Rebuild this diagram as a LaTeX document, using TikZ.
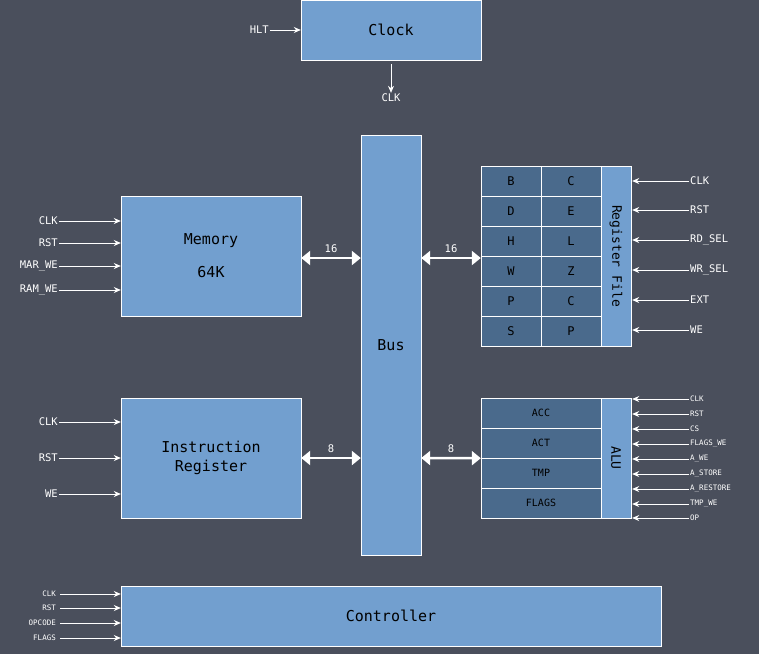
\documentclass[tikz,border=0pt]{standalone}
\usepackage{fontspec}
\setmainfont{DejaVu Sans Mono}
\usetikzlibrary{arrows.meta, positioning, calc}
\definecolor{bgslate}{HTML}{4A4F5C}
\definecolor{blockblue}{HTML}{729FCF}
\definecolor{cellblue}{HTML}{4A6A8C}

\begin{document}
\begin{tikzpicture}[
    x=1pt, y=-1pt,
    block/.style={rectangle, draw=white, fill=blockblue, inner sep=0pt, font=\fontsize{15}{19}\selectfont, align=center},
    cell/.style={rectangle, draw=white, fill=cellblue, minimum width=60pt, minimum height=30pt, inner sep=0pt, font=\fontsize{12}{14}\selectfont},
    alucell/.style={cell, minimum width=120pt, font=\fontsize{10}{12}\selectfont},
    sig/.style={text=white, inner sep=1pt, font=\fontsize{10.5}{12}\selectfont},
    tinysig/.style={text=white, inner sep=1pt, font=\fontsize{7.5}{8}\selectfont},
    sigarrow/.style={-{Stealth[length=7pt,width=6pt]}, white, line width=0.9pt},
    busarrow/.style={{Triangle[length=9pt,width=14pt]}-{Triangle[length=9pt,width=14pt]}, white, line width=2.5pt}
]
\fill[bgslate] (0,0) rectangle (759,654);
\useasboundingbox (0,0) rectangle (759,654);

% Blocks
\node[block, minimum width=180pt, minimum height=60pt] (clock) at (391,30) {Clock};
\node[block, minimum width=60pt, minimum height=420pt] (bus) at (391,345) {Bus};
\node[block, minimum width=180pt, minimum height=120pt] (mem) at (211,256) {Memory\\[14pt]64K};
\node[block, minimum width=180pt, minimum height=120pt] (ir) at (211,458) {Instruction\\Register};
\node[block, minimum width=540pt, minimum height=60pt] (ctrl) at (391,616) {Controller};

% Clock signals
\node[sig, anchor=east] (hlt) at (270,30) {HLT};
\draw[sigarrow] (hlt.east) -- (clock.west |- hlt.east);
\node[sig] (clkout) at (391,98) {CLK};
\draw[sigarrow] ([yshift=-4pt]clock.south) -- (clkout.north);

% Register file
\foreach \l/\r [count=\i] in {B/C, D/E, H/L, W/Z, P/C, S/P} {
    \node[cell] (rl\i) at (511,151+30*\i) {\l};
    \node[cell] (rr\i) at (571,151+30*\i) {\r};
}
\node[block, minimum width=30pt, minimum height=180pt] (regfile) at (616,256) {};
\node[rotate=-90, font=\fontsize{13}{15}\selectfont] at (regfile.center) {Register File};

% ALU
\foreach \n [count=\i] in {ACC, ACT, TMP, FLAGS} {
    \node[alucell] (alu\i) at (541,383+30*\i) {\n};
}
\node[block, minimum width=30pt, minimum height=120pt] (alu) at (616,458) {};
\node[rotate=-90, font=\fontsize{13}{15}\selectfont] at (alu.center) {ALU};

% Bus connections
\draw[busarrow] (mem.east |- 0,258) -- node[sig, above=3pt] {16} (bus.west |- 0,258);
\draw[busarrow] (bus.east |- 0,258) -- node[sig, above=3pt] {16} (rl3.west |- 0,258);
\draw[busarrow] (ir.east) -- node[sig, above=3pt] {8} (bus.west |- ir.east);
\draw[busarrow] (bus.east |- ir.east) -- node[sig, above=3pt] {8} (alu2.south west);

% Memory inputs
\foreach \n/\y in {CLK/221, RST/243, MAR\_WE/266, RAM\_WE/290} {
    \node[sig, anchor=east] (m\y) at (59,\y) {\n};
    \draw[sigarrow] (m\y.east) -- (mem.west |- m\y.east);
}

% IR inputs
\foreach \n/\y in {CLK/422, RST/458, WE/494} {
    \node[sig, anchor=east] (i\y) at (59,\y) {\n};
    \draw[sigarrow] (i\y.east) -- (ir.west |- i\y.east);
}

% Register file inputs
\foreach \n/\y in {CLK/181, RST/210, RD\_SEL/240, WR\_SEL/270, EXT/300, WE/330} {
    \node[sig, anchor=west] (r\y) at (689,\y) {\n};
    \draw[sigarrow] (r\y.west) -- ([xshift=1pt]regfile.east |- r\y.west);
}

% ALU inputs
\foreach \n/\y in {CLK/399, RST/414, CS/429, FLAGS\_WE/444, A\_WE/459, A\_STORE/474, A\_RESTORE/489, TMP\_WE/504, OP/518} {
    \node[tinysig, anchor=west] (a\y) at (689,\y) {\n};
    \draw[sigarrow] (a\y.west) -- ([xshift=1pt]alu.east |- a\y.west);
}

% Controller inputs
\foreach \n/\y in {CLK/594, RST/608, OPCODE/623, FLAGS/638} {
    \node[tinysig, anchor=east] (c\y) at (57,\y) {\n};
    \draw[sigarrow] ([xshift=3pt]c\y.east) -- (ctrl.west |- c\y.east);
}
\end{tikzpicture}
\end{document}
